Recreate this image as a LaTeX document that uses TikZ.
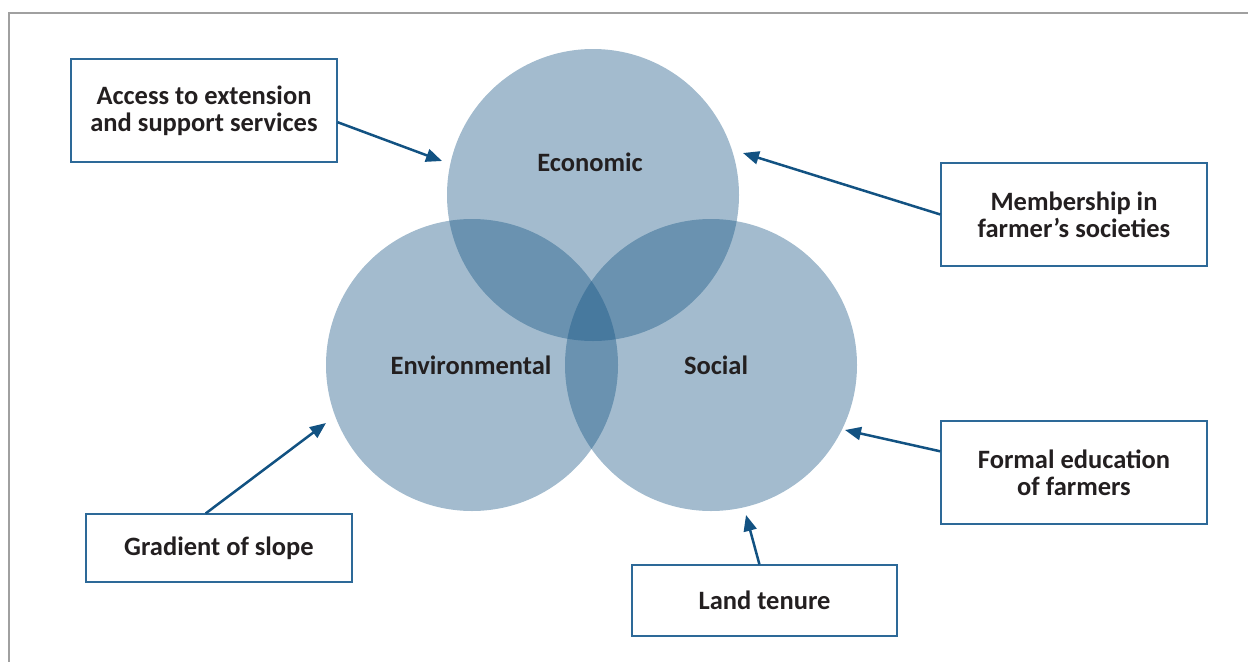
\documentclass[tikz,border=0pt]{standalone}
\usepackage{fontspec}
\setmainfont{Carlito}
\usetikzlibrary{arrows.meta}
\definecolor{vennblau}{RGB}{17,81,129}
\definecolor{pfeilblau}{RGB}{18,82,130}
\definecolor{rahmenblau}{RGB}{45,105,152}
\definecolor{textgrau}{RGB}{35,31,32}
\definecolor{randgrau}{RGB}{160,160,160}

\begin{document}
\begin{tikzpicture}[x=1pt,y=-1pt,
		kreis/.style={fill=vennblau,fill opacity=0.39},
		kasten/.style={draw=rahmenblau,line width=1.2pt,minimum width=266pt,align=center,text=textgrau,font=\fontsize{26.5}{27}\selectfont\bfseries},
		titel/.style={text=textgrau,font=\fontsize{26.5}{27}\selectfont\bfseries},
		pfeil/.style={draw=pfeilblau,line width=2.5pt,-{Triangle[length=16pt,width=13pt]}}]
		\useasboundingbox (0,0) rectangle (1248,662);
		%Rahmen
		\draw[randgrau,line width=1.5pt] (1248,13) -- (9,13) -- (9,662);
		
		%Kreise
		\fill[kreis] (593,195) circle[radius=146pt];
		\fill[kreis] (472,365) circle[radius=146pt];
		\fill[kreis] (711,365) circle[radius=146pt];
		\node[titel] (oekonomisch) at (590,162) {Economic};
		\node[titel] (oekologisch) at (471,365) {Environmental};
		\node[titel] (sozial) at (716,365) {Social};
		
		%Kaesten
		\node[kasten,minimum height=103pt] (zugang) at (204,110.5) {Access to extension\\and support services};
		\node[kasten,minimum height=103pt] (mitglied) at (1074,214.5) {Membership in\\farmer’s societies};
		\node[kasten,minimum height=68pt] (gefaelle) at (219,548) {Gradient of slope};
		\node[kasten,minimum height=71pt,minimum width=265pt] (besitz) at (764.5,600.5) {Land tenure};
		\node[kasten,minimum height=103pt] (bildung) at (1074,472.5) {Formal education\\of farmers};
		
		%Pfeilspitzen
		\coordinate (z) at (442,161);
		\coordinate (m) at (743,153);
		\coordinate (g) at (326,423);
		\coordinate (b) at (746,515);
		\coordinate (e) at (845,430);
		
		\path
		(zugang.-5) edge [pfeil] (z)
		(mitglied.west) edge [pfeil] (m)
		(gefaelle.111) edge [pfeil] (g)
		(besitz.98) edge [pfeil] (b)
		(bildung.171) edge [pfeil] (e)
		;
	\end{tikzpicture}
\end{document}
